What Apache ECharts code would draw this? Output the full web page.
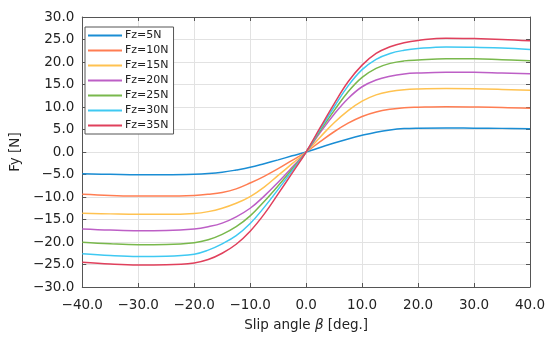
<!DOCTYPE html>
<html>
<head>
<meta charset="utf-8">
<script src="https://cdn.jsdelivr.net/npm/echarts@6/dist/echarts.min.js"></script>
<style>html,body{margin:0;padding:0;background:#fff}#c{width:550px;height:337px}</style>
</head>
<body>
<div id="c"></div>
<script>
const slipAngle = [-40,-35,-30,-25,-20,-17.5,-15,-12.5,-10,-7.5,-5,-2.5,0,2.5,5,7.5,10,12.5,15,17.5,20,25,30,35,40];
const seriesNames = ['Fz=5N','Fz=10N','Fz=15N','Fz=20N','Fz=25N','Fz=30N','Fz=35N'];
const fz5  = [-4.85,-4.95,-5.05,-5.05,-4.95,-4.8,-4.5,-4.0,-3.4,-2.6,-1.75,-0.85,0,1.0,2.0,2.9,3.7,4.4,4.9,5.2,5.3,5.35,5.3,5.25,5.15];
const fz10 = [-9.4,-9.65,-9.8,-9.8,-9.65,-9.4,-9.0,-8.2,-6.9,-5.4,-3.7,-1.85,0,2.3,4.5,6.4,7.9,8.9,9.5,9.85,9.95,10.05,10.0,9.9,9.7];
const fz15 = [-13.6,-13.75,-13.85,-13.85,-13.65,-13.25,-12.5,-11.4,-9.9,-7.8,-5.2,-2.6,0,3.3,6.5,9.2,11.3,12.7,13.45,13.85,14.0,14.1,14.05,13.9,13.7];
const fz20 = [-17.1,-17.35,-17.5,-17.45,-17.1,-16.6,-15.8,-14.4,-12.5,-9.8,-6.7,-3.4,0,4.3,8.4,11.9,14.5,16.0,16.85,17.35,17.55,17.7,17.7,17.55,17.4];
const fz25 = [-20.05,-20.4,-20.6,-20.55,-20.15,-19.5,-18.3,-16.6,-14.2,-11.0,-7.5,-3.8,0,4.7,9.2,13.4,16.6,18.6,19.7,20.25,20.45,20.7,20.7,20.5,20.3];
const fz30 = [-22.6,-23.0,-23.2,-23.15,-22.7,-21.8,-20.4,-18.6,-15.9,-12.3,-8.3,-4.2,0,5.1,10.0,14.7,18.3,20.6,21.9,22.6,23.0,23.35,23.3,23.1,22.8];
const fz35 = [-24.5,-24.9,-25.1,-25.05,-24.65,-23.9,-22.5,-20.5,-17.6,-13.8,-9.3,-4.7,0,5.4,10.7,15.6,19.3,21.9,23.4,24.3,24.8,25.3,25.2,25.0,24.7];
const allValues = [fz5,fz10,fz15,fz20,fz25,fz30,fz35];
const colors = ['#1a8dd4','#ff7d52','#ffc250','#bd5fc6','#79b84c','#3fc9f2','#e0405c'];

const FONT = 'DejaVu Sans';
const fmt = v => (v < 0 ? '\u2212' + Math.abs(v).toFixed(1) : v.toFixed(1));

const chart = echarts.init(document.getElementById('c'), null, {renderer:'canvas'});
const axisLineStyle = {color:'#555', width:1};
chart.setOption({
  animation:false,
  backgroundColor:'#fff',
  textStyle:{fontFamily:FONT},
  grid:{left:71, right:20, top:17, bottom:50, containLabel:false},
  legend:{
    orient:'vertical', left:85, top:27,
    padding:[1,5,1,3], itemGap:0, itemWidth:34, itemHeight:2, icon:'rect',
    borderColor:'#555', borderWidth:1, backgroundColor:'#fff',
    textStyle:{fontFamily:FONT, fontSize:11, color:'#222', lineHeight:15, padding:[0,0,0,-2]},
    data:seriesNames
  },
  xAxis:[{
    type:'value', min:-40, max:40, interval:10, position:'bottom',
    name:'Slip angle {b|β} [deg.]', nameLocation:'middle', nameGap:31,
    nameTextStyle:{fontFamily:FONT, fontSize:13.5, color:'#222', rich:{b:{fontFamily:FONT, fontSize:13.5, fontStyle:'italic', color:'#222'}}},
    axisLine:{show:true, onZero:false, lineStyle:axisLineStyle},
    axisTick:{show:true, inside:true, length:4, lineStyle:axisLineStyle},
    axisLabel:{fontFamily:FONT, fontSize:13.5, color:'#222', margin:11, formatter:fmt},
    splitLine:{show:true, lineStyle:{color:'#e2e2e2', width:1}}
  },{
    type:'value', min:-40, max:40, interval:10, position:'top',
    axisLine:{show:true, onZero:false, lineStyle:axisLineStyle},
    axisTick:{show:true, inside:true, length:4, lineStyle:axisLineStyle},
    axisLabel:{show:false}, splitLine:{show:false}
  }],
  yAxis:[{
    type:'value', min:-30, max:30, interval:5, position:'left',
    name:'Fy [N]', nameLocation:'middle', nameGap:52, nameRotate:90,
    nameTextStyle:{fontFamily:FONT, fontSize:13.5, color:'#222'},
    axisLine:{show:true, onZero:false, lineStyle:axisLineStyle},
    axisTick:{show:true, inside:true, length:4, lineStyle:axisLineStyle},
    axisLabel:{fontFamily:FONT, fontSize:13.5, color:'#222', margin:8, formatter:fmt},
    splitLine:{show:true, lineStyle:{color:'#e2e2e2', width:1}}
  },{
    type:'value', min:-30, max:30, interval:5, position:'right',
    axisLine:{show:true, onZero:false, lineStyle:axisLineStyle},
    axisTick:{show:true, inside:true, length:4, lineStyle:axisLineStyle},
    axisLabel:{show:false}, splitLine:{show:false}
  }],
  series: allValues.map((vals,i)=>({
    name:seriesNames[i], type:'line', xAxisIndex:0, yAxisIndex:0,
    data: slipAngle.map((x,j)=>[x, vals[j]]),
    smooth:0.4, symbol:'none',
    lineStyle:{color:colors[i], width:1.5},
    itemStyle:{color:colors[i]}
  }))
});
</script>
</body>
</html>
